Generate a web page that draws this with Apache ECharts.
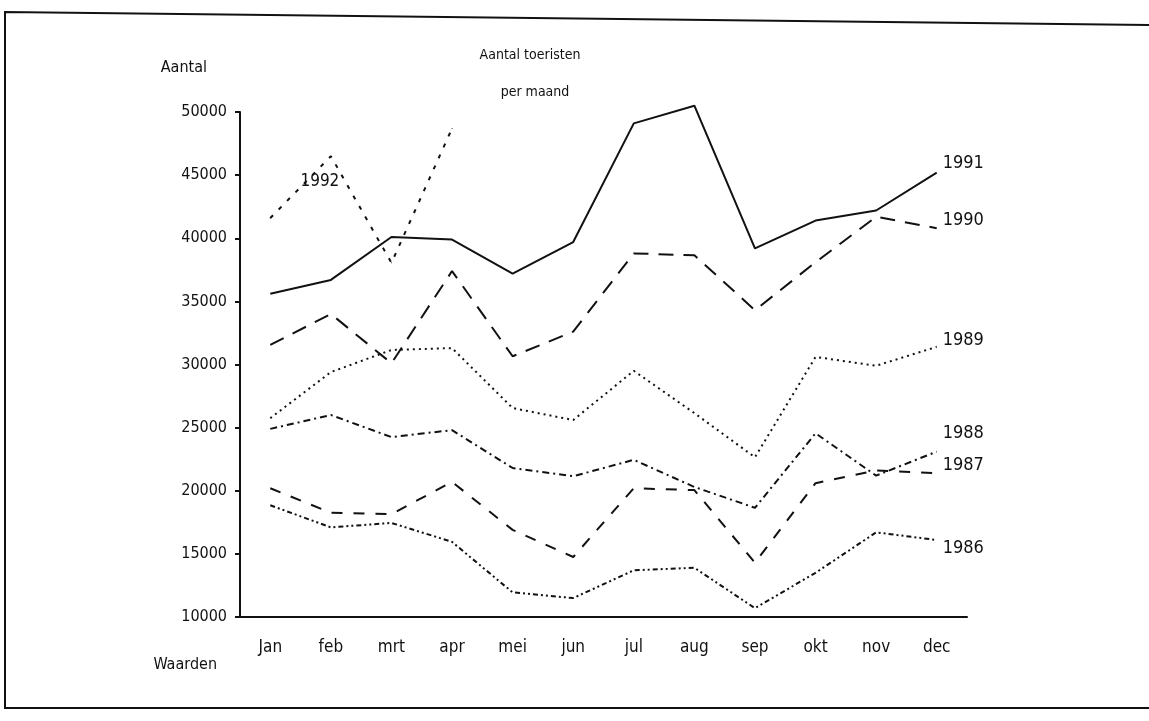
<!DOCTYPE html>
<html>
<head>
<meta charset="utf-8">
<title>Aantal toeristen per maand</title>
<script src="https://cdn.jsdelivr.net/npm/echarts@6/dist/echarts.min.js"></script>
<style>
  html, body { margin: 0; padding: 0; background: #fff; }
  #chart { width: 1149px; height: 721px; }
</style>
</head>
<body>
<div id="chart"></div>
<script>
// data
const months = ['Jan', 'feb', 'mrt', 'apr', 'mei', 'jun', 'jul', 'aug', 'sep', 'okt', 'nov', 'dec'];
const yTicks = [10000, 15000, 20000, 25000, 30000, 35000, 40000, 45000, 50000];

const y1986 = [18850, 17100, 17450, 15950, 11950, 11500, 13700, 13900, 10700, 13500, 16700, 16100];
const y1987 = [20200, 18250, 18150, 20700, 16900, 14750, 20200, 20050, 14300, 20600, 21600, 21400];
const y1988 = [24900, 26000, 24250, 24800, 21800, 21150, 22450, 20300, 18650, 24550, 21200, 23100];
const y1989 = [25750, 29400, 31150, 31300, 26550, 25600, 29500, 26150, 22650, 30600, 29900, 31400];
const y1990 = [31550, 34000, 30100, 37400, 30650, 32600, 38800, 38650, 34300, 38100, 41700, 40800];
const y1991 = [35600, 36700, 40100, 39900, 37200, 39700, 49100, 50500, 39200, 41400, 42200, 45200];
const y1992 = [41600, 46500, 38050, 48700, null, null, null, null, null, null, null, null];

const FONT = "'Liberation Sans Narrow', 'DejaVu Sans Condensed', 'Arial Narrow', sans-serif";
const INK = '#111';

const chart = echarts.init(document.getElementById('chart'), null, { renderer: 'canvas' });

// one helper for the yearly lines, label sits at the end of the line
function yearLine(name, data, dash, labelOffset) {
  return {
    name: name,
    type: 'line',
    data: data,
    symbol: 'none',
    clip: false,
    lineStyle: { color: INK, width: 2, type: dash },
    endLabel: {
      show: true,
      formatter: name,
      color: INK,
      fontFamily: FONT,
      fontSize: 18,
      distance: 6,
      offset: labelOffset
    }
  };
}

const option = {
  animation: false,
  backgroundColor: '#fff',
  textStyle: { fontFamily: FONT, color: INK },
  grid: { left: 240, right: 182, top: 112, bottom: 104 },
  graphic: [
    {
      type: 'polyline',
      shape: { points: [[1149, 25], [5, 12], [5, 708], [1149, 708]] },
      style: { stroke: INK, lineWidth: 2, fill: null }
    },
    {
      type: 'text', x: 530, y: 55,
      style: { text: 'Aantal toeristen', fill: INK, font: '14px ' + FONT, align: 'center', verticalAlign: 'middle' }
    },
    {
      type: 'text', x: 535, y: 92,
      style: { text: 'per maand', fill: INK, font: '14px ' + FONT, align: 'center', verticalAlign: 'middle' }
    }
  ],
  xAxis: {
    type: 'category',
    data: months,
    boundaryGap: true,
    name: 'Waarden',
    nameLocation: 'start',
    nameGap: 23,
    nameTextStyle: { fontSize: 16, color: INK, verticalAlign: 'top', padding: [40, 0, 0, 0] },
    axisLine: { lineStyle: { color: INK, width: 2 } },
    axisTick: { alignWithLabel: true, length: 6, lineStyle: { color: INK, width: 2 } },
    axisLabel: { color: INK, fontSize: 17, margin: 22 },
    splitLine: { show: false }
  },
  yAxis: {
    type: 'value',
    min: 10000,
    max: 50000,
    interval: 5000,
    name: 'Aantal',
    nameLocation: 'end',
    nameGap: 36,
    nameTextStyle: { fontSize: 16, color: INK, align: 'right', padding: [0, 33, 0, 0] },
    axisLine: { show: true, lineStyle: { color: INK, width: 2 } },
    axisTick: { show: true, length: 5, lineStyle: { color: INK, width: 2 } },
    axisLabel: {
      color: INK, fontSize: 16, margin: 13,
      formatter: v => (yTicks.indexOf(v) >= 0 ? String(v) : '')
    },
    splitLine: { show: false }
  },
  series: [
    yearLine('1991', y1991, 'solid', [0, -9]),
    yearLine('1990', y1990, [15, 10], [0, -8]),
    yearLine('1989', y1989, [2, 4], [0, -6]),
    yearLine('1988', y1988, [7, 4, 2, 4], [0, -18]),
    yearLine('1987', y1987, [11, 11], [0, -8]),
    yearLine('1986', y1986, [5, 3, 2, 3, 2, 3], [0, 8]),
    {
      name: '1992',
      type: 'line',
      // tiny symbols so the point label can be drawn, they vanish under the line
      symbol: 'circle',
      symbolSize: 1,
      showSymbol: true,
      itemStyle: { color: INK },
      clip: false,
      lineStyle: { color: INK, width: 2, type: [4, 8] },
      data: y1992.map((v, i) => i === 1
        ? { value: v, label: { show: true, formatter: '1992', position: 'bottom', offset: [-11, 11], fontSize: 17, color: INK } }
        : v)
    }
  ]
};

chart.setOption(option);
</script>
</body>
</html>
